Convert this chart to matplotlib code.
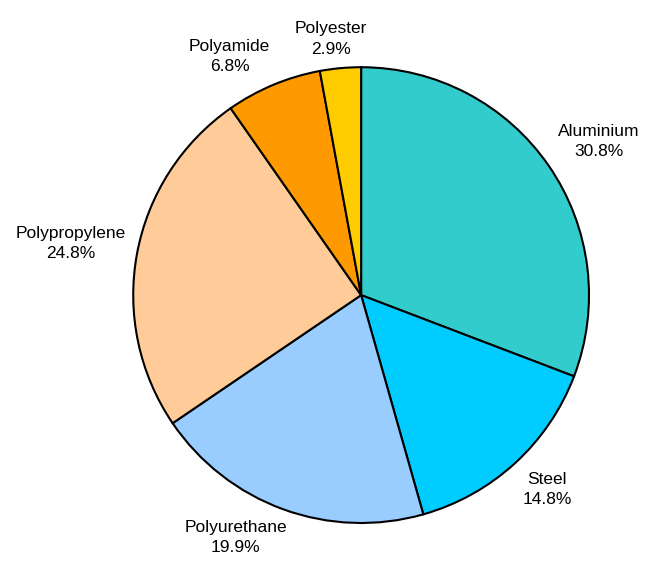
import numpy as np
import matplotlib.pyplot as plt

plt.rcParams['font.family'] = ['Liberation Sans', 'DejaVu Sans']

materials = ['Aluminium', 'Steel', 'Polyurethane', 'Polypropylene', 'Polyamide', 'Polyester']
shares = [30.8, 14.8, 19.9, 24.8, 6.8, 2.9]
colors = ['#33CCCC', '#00CCFF', '#99CCFF', '#FFCC99', '#FF9900', '#FFCC00']

labels = [f'{m}\n{s:.1f}%' for m, s in zip(materials, shares)]

fig = plt.figure(figsize=(6.46, 5.62), dpi=100)
ax = fig.add_axes([0.206, 0.0694, 0.706, 0.811])

wedges, _ = ax.pie(shares, colors=colors, startangle=90, counterclock=False,
                   wedgeprops={'edgecolor': 'black', 'linewidth': 1.5})
ax.set_aspect('equal')
ax.set_xlim(-1, 1)
ax.set_ylim(-1, 1)

# labels sit just outside the rim, box pushed outward depending on the angle
texts = []
for w, lab in zip(wedges, labels):
    ang = np.deg2rad((w.theta1 + w.theta2) / 2)
    t = ax.text(1.05 * np.cos(ang), 1.05 * np.sin(ang), lab, fontsize=12.5,
                ha='center', va='center', multialignment='center',
                linespacing=1.45)
    texts.append((t, ang))

fig.canvas.draw()
r = fig.canvas.get_renderer()
for t, ang in texts:
    bb = t.get_window_extent(r)
    fx = np.clip(2.5 * np.cos(ang), -1, 1)
    fy = np.clip(2.5 * np.sin(ang), -1, 1)
    x0, y0 = ax.transData.transform(t.get_position())
    x1 = x0 + fx * bb.width / 2
    y1 = y0 + fy * bb.height / 2
    t.set_position(ax.transData.inverted().transform((x1, y1)))

fig.savefig('out.png', dpi=100)
